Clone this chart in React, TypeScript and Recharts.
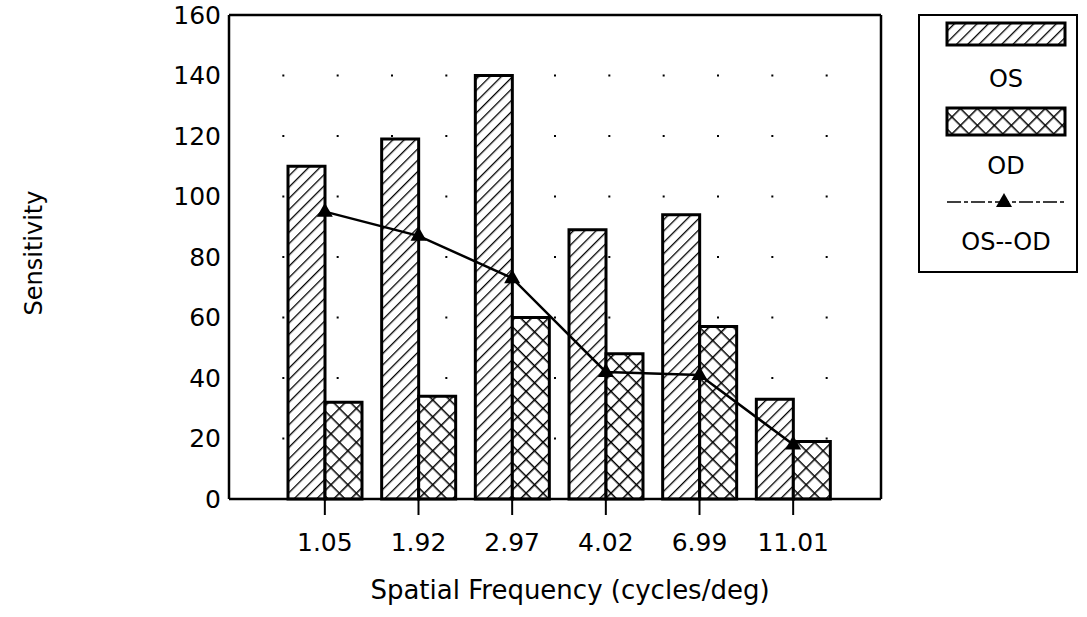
import { ComposedChart, Bar, Line, XAxis, YAxis, CartesianGrid, ReferenceLine, Legend, Label } from 'recharts';

const categories = ['1.05', '1.92', '2.97', '4.02', '6.99', '11.01'];
const osValues = [110, 119, 140, 89, 94, 33];
const odValues = [32, 34, 60, 48, 57, 19];
const diffValues = [95, 87, 73, 42, 41, 18];
const yTicks = [0, 20, 40, 60, 80, 100, 120, 140, 160];

const data = categories.map((freq, i) => ({
  freq,
  os: osValues[i],
  od: odValues[i],
  diff: diffValues[i],
}));

const FONT = '"DejaVu Sans", sans-serif';
const PLOT_W = 652;
const DOT_STEP = PLOT_W / 12;

function Triangle(props: any) {
  const { cx, cy, index } = props;
  if (cx == null || cy == null) return null;
  return (
    <path
      key={`tri-${index}`}
      d={`M${cx},${cy - 9} L${cx + 8},${cy + 5} L${cx - 8},${cy + 5} Z`}
      fill="#000"
    />
  );
}

function LegendBox() {
  return (
    <svg width={160} height={259} style={{ display: 'block', fontFamily: FONT }}>
      <rect x={1} y={1} width={158} height={257} fill="#fff" stroke="#000" strokeWidth={2} />
      <rect x={29} y={9} width={118} height={22} fill="url(#hatchOS)" stroke="#000" strokeWidth={3} />
      <text x={88} y={73} textAnchor="middle" fontSize={24}>OS</text>
      <rect x={29} y={94} width={118} height={27} fill="url(#hatchOD)" stroke="#000" strokeWidth={3} />
      <text x={88} y={160} textAnchor="middle" fontSize={24}>OD</text>
      <line x1={29} x2={147} y1={188} y2={188} stroke="#000" strokeWidth={1.5} strokeDasharray="14 3 4 3" />
      <Triangle cx={86} cy={188} index={99} />
      <text x={88} y={236} textAnchor="middle" fontSize={24}>OS--OD</text>
    </svg>
  );
}

export default function App() {
  return (
    <div style={{ position: 'absolute', left: 0, top: 0, width: 1087, height: 617, background: '#fff' }}>
      <ComposedChart
        width={1087}
        height={617}
        data={data}
        margin={{ top: 15, right: 205, bottom: 0, left: 0 }}
        barGap={0}
        style={{ fontFamily: FONT }}
      >
        <defs>
          <pattern id="hatchOS" width={8} height={8} patternUnits="userSpaceOnUse" patternTransform="rotate(45)">
            <rect width={8} height={8} fill="#fff" />
            <line x1={0} y1={0} x2={0} y2={8} stroke="#000" strokeWidth={2.6} />
          </pattern>
          <pattern id="hatchOD" width={12} height={12} patternUnits="userSpaceOnUse" patternTransform="rotate(45)">
            <rect width={12} height={12} fill="#fff" />
            <line x1={0} y1={0} x2={0} y2={12} stroke="#000" strokeWidth={3} />
            <line x1={0} y1={0} x2={12} y2={0} stroke="#000" strokeWidth={3} />
          </pattern>
        </defs>
        <CartesianGrid
          yAxisId="left"
          vertical={false}
          stroke="#000"
          strokeWidth={2}
          strokeDasharray={`2 ${DOT_STEP - 2}`}
          strokeDashoffset={-(DOT_STEP - 1)}
        />
        <XAxis
          dataKey="freq"
          type="category"
          padding={{ left: 49, right: 41 }}
          height={118}
          axisLine={{ stroke: '#000', strokeWidth: 2.5 }}
          tickLine={{ stroke: '#000', strokeWidth: 2 }}
          tickSize={16}
          tickMargin={18}
          tick={{ fill: '#000', fontSize: 25, fontFamily: FONT }}
        >
          <Label
            content={({ viewBox }: any) => (
              <text
                x={viewBox.x + viewBox.width / 2 + 15}
                y={viewBox.y + 100}
                textAnchor="middle"
                fontSize={26}
                fontFamily={FONT}
                fill="#000"
              >
                Spatial Frequency (cycles/deg)
              </text>
            )}
          />
        </XAxis>
        <YAxis
          yAxisId="left"
          domain={[0, 160]}
          ticks={yTicks}
          width={229}
          axisLine={{ stroke: '#000', strokeWidth: 2.5 }}
          tickLine={false}
          tickSize={0}
          tickMargin={8}
          tick={{ fill: '#000', fontSize: 25, fontFamily: FONT }}
        >
          <Label
            content={({ viewBox }: any) => {
              const x = viewBox.x + 42;
              const y = viewBox.y + viewBox.height / 2 - 4;
              return (
                <text
                  x={x}
                  y={y}
                  transform={`rotate(-90 ${x} ${y})`}
                  textAnchor="middle"
                  fontSize={24}
                  fontFamily={FONT}
                  fill="#000"
                >
                  Sensitivity
                </text>
              );
            }}
          />
        </YAxis>
        <YAxis
          yAxisId="right"
          orientation="right"
          domain={[0, 160]}
          ticks={yTicks}
          width={1}
          tick={false}
          tickLine={false}
          axisLine={{ stroke: '#000', strokeWidth: 2.5 }}
        />
        <ReferenceLine yAxisId="left" y={160} stroke="#000" strokeWidth={2.5} />
        <Bar
          yAxisId="left"
          dataKey="os"
          name="OS"
          barSize={37}
          fill="url(#hatchOS)"
          stroke="#000"
          strokeWidth={3}
          isAnimationActive={false}
        />
        <Bar
          yAxisId="left"
          dataKey="od"
          name="OD"
          barSize={37}
          fill="url(#hatchOD)"
          stroke="#000"
          strokeWidth={3}
          isAnimationActive={false}
        />
        <Line
          yAxisId="left"
          dataKey="diff"
          name="OS--OD"
          type="linear"
          stroke="#000"
          strokeWidth={2.5}
          dot={Triangle}
          activeDot={false}
          isAnimationActive={false}
        />
        <Legend
          layout="vertical"
          align="center"
          verticalAlign="middle"
          content={() => <LegendBox />}
          wrapperStyle={{ position: 'absolute', left: 918, top: 14, width: 160, height: 259 }}
        />
      </ComposedChart>
    </div>
  );
}
